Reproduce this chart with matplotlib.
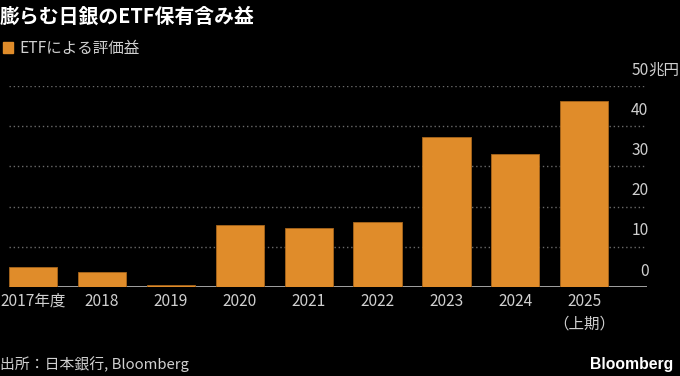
import matplotlib
matplotlib.use("Agg")
import matplotlib.pyplot as plt

plt.rcParams['font.family'] = ['Noto Sans CJK JP', 'DejaVu Sans']

categories = ["2017年度", "2018", "2019", "2020", "2021", "2022", "2023", "2024", "2025\n（上期）"]
values = [4.9, 3.8, 0.4, 15.4, 14.7, 16.1, 37.4, 33.0, 46.2]
yticks = [0, 10, 20, 30, 40, 50]
ytick_labels = ["0", "10", "20", "30", "40", "50"]
unit = "兆円"
title = "膨らむ日銀のETF保有含み益"
legend_label = "ETFによる評価益"
source = "出所：日本銀行, Bloomberg"

W, H = 680, 376
fig = plt.figure(figsize=(W / 100, H / 100), dpi=100, facecolor="black")

left_px, right_px = 9, 647
bottom_px, top_px = 287, 86
ax = fig.add_axes([left_px / W, (H - bottom_px) / H,
                   (right_px - left_px) / W, (bottom_px - top_px) / H])
ax.set_facecolor("black")

bar_color = "#E08C2A"
x = list(range(len(categories)))
ax.bar(x, values, width=0.70, color=bar_color, edgecolor="#A8661C",
       linewidth=0.6, zorder=3)

ax.set_xlim(-0.348, 8.91)
ax.set_ylim(0, 50)

# gridlines
for v in yticks[1:]:
    ax.axhline(v, color="#6a6a6a", linewidth=1.0, linestyle=(0, (1, 2)), zorder=1)
ax.axhline(0, color="#bdbdbd", linewidth=1.2, zorder=2)

for s in ax.spines.values():
    s.set_visible(False)
ax.set_yticks([])
ax.set_xticks(x)
ax.set_xticklabels(categories, color="#d0d0d0", fontsize=11.2, linespacing=1.45)
ax.tick_params(axis="x", length=0, pad=4)

ytr = ax.get_yaxis_transform()
for v, lab in zip(yticks, ytick_labels):
    ax.annotate(lab, xy=(1.0, v), xycoords=ytr, xytext=(1, 11.5),
                textcoords="offset points", ha="right", va="center",
                color="#d0d0d0", fontsize=11.2)
ax.annotate(unit, xy=(1.0, yticks[-1]), xycoords=ytr, xytext=(1, 11.5),
            textcoords="offset points", ha="left", va="center",
            color="#d0d0d0", fontsize=11.2)

fig.text(0 / W, 1 - 16 / H, title, color="white", fontsize=14.3,
         fontweight="bold", ha="left", va="center")
fig.patches.append(plt.Rectangle((3 / W, 1 - 53 / H), 10 / W, 11 / H,
                                 transform=fig.transFigure, color=bar_color))
fig.text(19 / W, 1 - 48 / H, legend_label, color="#d0d0d0", fontsize=11.2,
         ha="left", va="center")
fig.text(0 / W, 1 - 364 / H, source, color="#d0d0d0", fontsize=10.7,
         ha="left", va="center")
fig.text(673 / W, 1 - 364 / H, "Bloomberg", color="white", fontsize=11.3,
         fontweight="bold", ha="right", va="center", family=["Liberation Sans", "DejaVu Sans"])

fig.savefig("out.png", dpi=100, facecolor="black")
